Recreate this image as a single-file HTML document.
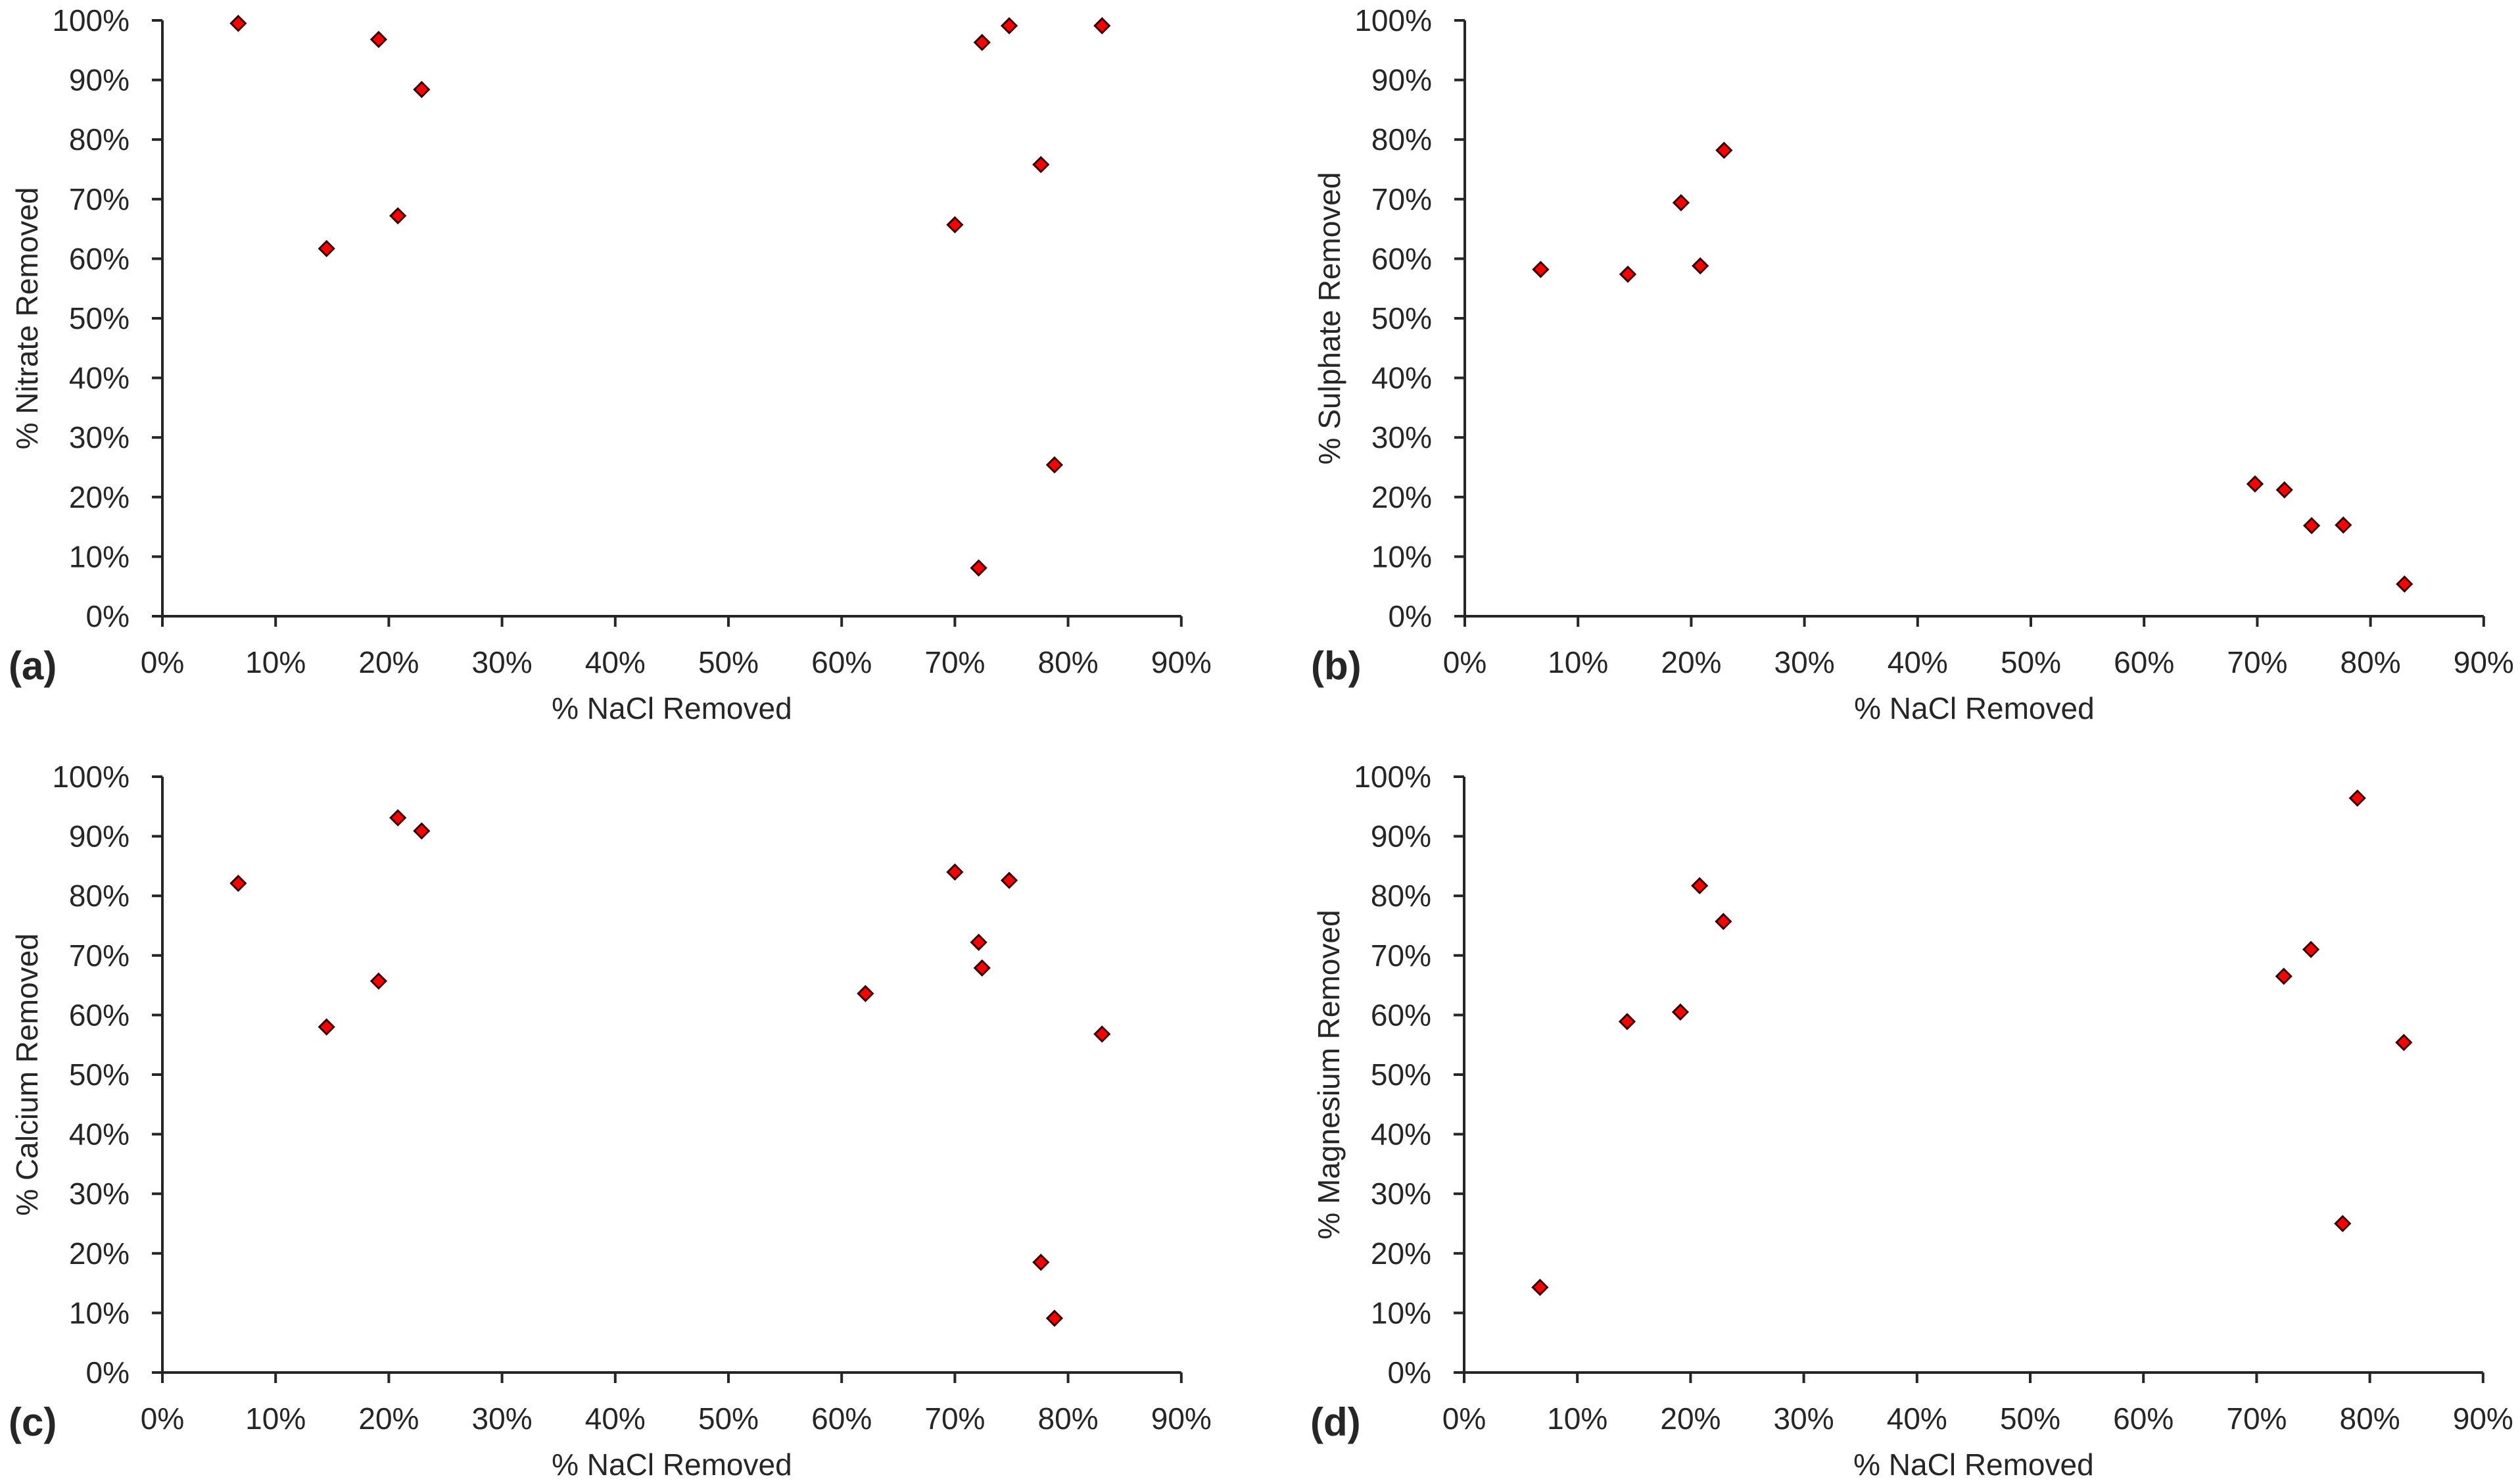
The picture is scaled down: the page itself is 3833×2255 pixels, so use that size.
<!DOCTYPE html>
<html><head><meta charset="utf-8"><style>
html,body{margin:0;padding:0;background:#fff}
svg{display:block}
text{font-family:"Liberation Sans",sans-serif;fill:#262626}
</style></head><body>
<svg id="chart" width="3833" height="2255" viewBox="0 0 3833 2255"></svg>
<script>
const xTicks=[0,10,20,30,40,50,60,70,80,90];
const yTicks=[0,10,20,30,40,50,60,70,80,90,100];
const nitrateX=[6.7,19.1,22.9,20.8,14.5,72.4,74.8,83.0,77.6,70.0,78.8,72.1];
const nitrateY=[99.5,96.8,88.4,67.2,61.7,96.3,99.1,99.1,75.8,65.7,25.4,8.1];
const sulphateX=[6.7,14.4,19.1,20.8,22.9,69.8,72.4,74.8,77.6,83.0];
const sulphateY=[58.2,57.4,69.4,58.8,78.2,22.2,21.2,15.2,15.3,5.4];
const calciumX=[6.7,14.5,19.1,20.8,22.9,62.1,70.0,74.8,72.1,72.4,83.0,77.6,78.8];
const calciumY=[82.1,58.0,65.7,93.1,90.9,63.6,84.0,82.6,72.2,67.9,56.8,18.5,9.1];
const magnesiumX=[6.7,14.4,19.1,20.8,22.9,72.4,74.8,78.9,77.6,83.0];
const magnesiumY=[14.3,58.9,60.5,81.7,75.7,66.5,71.0,96.4,25.0,55.4];
const panels=[
 {id:'a',title:'% Nitrate Removed',xs:nitrateX,ys:nitrateY,x0:247,y0:937,top:31},
 {id:'b',title:'% Sulphate Removed',xs:sulphateX,ys:sulphateY,x0:2228,y0:937,top:31},
 {id:'c',title:'% Calcium Removed',xs:calciumX,ys:calciumY,x0:247,y0:2087,top:1181},
 {id:'d',title:'% Magnesium Removed',xs:magnesiumX,ys:magnesiumY,x0:2227,y0:2087,top:1181}
];
const NS='http://www.w3.org/2000/svg';
const svg=document.getElementById('chart');
function mk(tag,attrs,parent){const e=document.createElementNS(NS,tag);for(const k in attrs)e.setAttribute(k,attrs[k]);(parent||svg).appendChild(e);return e;}
panels.forEach(p=>{
 const g=mk('g',{});
 
 
 const pxPer=172.2;
 const sx=v=>p.x0+v/10*pxPer;
 const sy=v=>p.y0-(p.y0-p.top)*v/100;
 const xEnd=sx(90);
 const ax=mk('line',{x1:p.x0,y1:p.y0,x2:xEnd,y2:p.y0,stroke:'#262626','stroke-width':4},g);
 
 
 const ay=mk('line',{x1:p.x0,y1:p.top,x2:p.x0,y2:p.y0,stroke:'#262626','stroke-width':4},g);
 
 
 xTicks.forEach(t=>{
  mk('line',{x1:sx(t),y1:p.y0,x2:sx(t),y2:p.y0+16,stroke:'#262626','stroke-width':4},g);
  const tx=mk('text',{x:sx(t),y:p.y0+86,'font-size':46,'text-anchor':'middle'},g);
  tx.textContent=t+'%';
  
  
 });
 yTicks.forEach(t=>{
  mk('line',{x1:p.x0-16,y1:sy(t),x2:p.x0,y2:sy(t),stroke:'#262626','stroke-width':4},g);
  const ty=mk('text',{x:p.x0-50,y:sy(t)+16,'font-size':46,'text-anchor':'end'},g);
  ty.textContent=t+'%';
  
  
 });
 const xt=mk('text',{x:(p.x0+xEnd)/2,y:p.y0+156,'font-size':46,'text-anchor':'middle'},g);
 xt.textContent='% NaCl Removed';
 
 
 const cy=(p.y0+p.top)/2;
 const cx=p.x0-190;
 const yt=mk('text',{x:cx,y:cy,'font-size':46,'text-anchor':'middle',transform:'rotate(-90 '+cx+' '+cy+')'},g);
 yt.textContent=p.title;
 
 
 const lb=mk('text',{x:p.x0-234,y:p.y0+96,'font-size':60,'font-weight':'bold'},g);
 lb.textContent='('+p.id+')';
 
 
 p.xs.forEach((v,i)=>{
  const x=sx(v),y=sy(p.ys[i]),r=11;
  const d=mk('polygon',{points:`${x},${y-r} ${x+r},${y} ${x},${y+r} ${x-r},${y}`,fill:'#ff0000',stroke:'#3a0000','stroke-width':3},g);
  
  
 });
});
</script>
</body></html>
